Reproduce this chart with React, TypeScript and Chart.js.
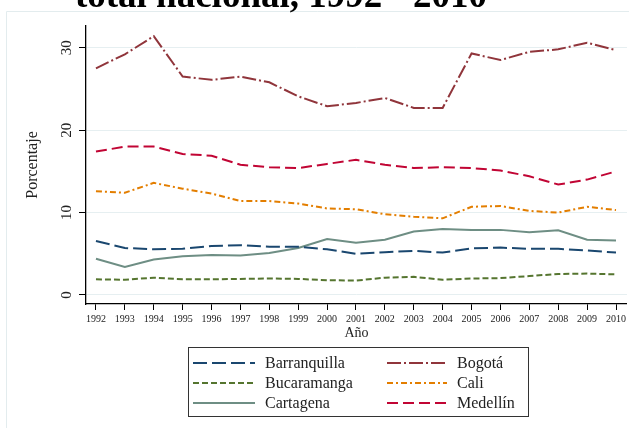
import React, { useEffect, useRef } from 'react';
import { Chart, registerables } from 'chart.js';

Chart.register(...registerables);

const years = [1992, 1993, 1994, 1995, 1996, 1997, 1998, 1999, 2000, 2001, 2002, 2003, 2004, 2005, 2006, 2007, 2008, 2009, 2010];
const barranquilla = [6.55, 5.7, 5.55, 5.6, 5.95, 6.05, 5.85, 5.85, 5.55, 5.0, 5.2, 5.35, 5.15, 5.65, 5.75, 5.6, 5.6, 5.4, 5.15];
const bogota = [27.5, 29.2, 31.4, 26.5, 26.1, 26.5, 25.8, 24.1, 22.9, 23.3, 23.9, 22.7, 22.7, 29.3, 28.5, 29.5, 29.8, 30.6, 29.7];
const bucaramanga = [1.9, 1.85, 2.1, 1.9, 1.9, 1.95, 2.0, 1.95, 1.8, 1.75, 2.1, 2.2, 1.85, 2.0, 2.05, 2.3, 2.55, 2.6, 2.5];
const cali = [12.6, 12.4, 13.6, 12.9, 12.3, 11.4, 11.4, 11.1, 10.5, 10.4, 9.8, 9.5, 9.3, 10.7, 10.8, 10.2, 10.0, 10.7, 10.3];
const cartagena = [4.4, 3.4, 4.3, 4.7, 4.85, 4.8, 5.1, 5.7, 6.8, 6.35, 6.7, 7.7, 8.0, 7.9, 7.9, 7.6, 7.85, 6.7, 6.6];
const medellin = [17.4, 18.0, 18.0, 17.1, 16.9, 15.8, 15.5, 15.4, 15.9, 16.4, 15.8, 15.4, 15.5, 15.4, 15.1, 14.4, 13.4, 14.0, 15.0];
const yTicks = [0, 10, 20, 30];
const titleText = 'total nacional, 1992 - 2010';
const yTitle = 'Porcentaje';
const xTitle = 'Año';

const seriesNames = ['Barranquilla', 'Bogotá', 'Bucaramanga', 'Cali', 'Cartagena', 'Medellín'];
const seriesValues = [barranquilla, bogota, bucaramanga, cali, cartagena, medellin];
const seriesColors = ['#1a476f', '#90353b', '#55752f', '#e37e00', '#6e8e84', '#c10534'];
const seriesDash = [[14, 5], [14, 3, 2, 3], [6, 3], [6, 3, 2, 3], [], [11, 5]];

const SERIF = '"Liberation Serif", "DejaVu Serif", serif';

const framePlugin = {
  id: 'frame',
  beforeDraw(chart: any) {
    const ctx = chart.ctx;
    ctx.save();
    ctx.fillStyle = '#ffffff';
    ctx.fillRect(0, 0, chart.width, chart.height);
    ctx.strokeStyle = '#e3ecee';
    ctx.lineWidth = 1;
    ctx.beginPath();
    ctx.moveTo(6.5, chart.height);
    ctx.lineTo(6.5, 11.5);
    ctx.lineTo(chart.width, 11.5);
    ctx.stroke();
    ctx.restore();
  },
  afterDraw(chart: any) {
    const ctx = chart.ctx;
    ctx.save();
    // title (cropped at top)
    ctx.fillStyle = '#000000';
    ctx.font = 'bold 37px ' + SERIF;
    ctx.textAlign = 'center';
    ctx.textBaseline = 'alphabetic';
    ctx.fillText(titleText, 281, 7);

    // legend
    const bx = 188.5, by = 347.5, bw = 340, bh = 69;
    ctx.strokeStyle = '#333333';
    ctx.lineWidth = 1;
    ctx.setLineDash([]);
    ctx.strokeRect(bx, by, bw, bh);
    const colSample = [[193, 255], [387, 447]];
    const colText = [265, 457];
    const rowY = [363, 383, 403];
    ctx.font = '16px ' + SERIF;
    ctx.textAlign = 'left';
    ctx.textBaseline = 'middle';
    seriesNames.forEach((name, i) => {
      const col = i % 2;
      const row = Math.floor(i / 2);
      const y = rowY[row];
      ctx.strokeStyle = seriesColors[i];
      ctx.lineWidth = 2;
      ctx.setLineDash(seriesDash[i]);
      ctx.beginPath();
      ctx.moveTo(colSample[col][0], y);
      ctx.lineTo(colSample[col][1], y);
      ctx.stroke();
      ctx.setLineDash([]);
      ctx.fillStyle = '#222222';
      ctx.fillText(name, colText[col], y + 1);
    });
    ctx.restore();
  },
};

export default function App() {
  const canvasRef = useRef<HTMLCanvasElement | null>(null);

  useEffect(() => {
    const canvas = canvasRef.current;
    if (!canvas) return;
    const datasets = seriesNames.map((name, i) => ({
      label: name,
      data: years.map((yr, j) => ({ x: yr, y: seriesValues[i][j] })),
      borderColor: seriesColors[i],
      backgroundColor: seriesColors[i],
      borderDash: seriesDash[i],
      borderWidth: 2,
      pointRadius: 0,
      tension: 0,
      fill: false,
    }));

    const chart = new Chart(canvas, {
      type: 'line',
      data: { datasets },
      options: {
        responsive: false,
        animation: false,
        layout: { padding: { top: 26, left: 0, right: 0, bottom: 84 } },
        plugins: {
          legend: { display: false },
          title: { display: false },
          tooltip: { enabled: false },
        },
        scales: {
          x: {
            type: 'linear',
            min: 1992 - 10 / 29,
            max: 2010 + 11 / 29,
            afterBuildTicks: (scale: any) => {
              scale.ticks = years.map((v) => ({ value: v }));
            },
            afterFit: (scale: any) => {
              scale.height = 40;
            },
            ticks: {
              autoSkip: false,
              maxRotation: 0,
              minRotation: 0,
              padding: 3,
              color: '#222222',
              font: { family: SERIF, size: 10 },
              callback: (v: any) => String(v),
            },
            grid: {
              drawOnChartArea: false,
              drawTicks: true,
              tickLength: 6,
              tickColor: '#000000',
              tickWidth: 1,
            },
            border: { display: true, color: '#000000', width: 1.3 },
            title: {
              display: true,
              text: xTitle,
              color: '#222222',
              font: { family: SERIF, size: 14 },
              padding: { top: 0, bottom: 2.6 },
            },
          },
          y: {
            type: 'linear',
            min: -9 / 8.243,
            max: 30 + 21.7 / 8.243,
            afterBuildTicks: (scale: any) => {
              scale.ticks = yTicks.map((v) => ({ value: v }));
            },
            afterFit: (scale: any) => {
              scale.width = 86;
            },
            ticks: {
              minRotation: 90,
              maxRotation: 90,
              crossAlign: 'center',
              padding: 4,
              color: '#222222',
              font: { family: SERIF, size: 15 },
              callback: (v: any) => String(v),
            },
            grid: {
              color: '#e6eff1',
              lineWidth: 1,
              drawTicks: true,
              tickLength: 7,
              tickColor: '#000000',
              tickWidth: 1,
            },
            border: { display: true, color: '#000000', width: 1.3 },
            title: {
              display: true,
              text: yTitle,
              color: '#222222',
              font: { family: SERIF, size: 16 },
              padding: { top: 23.4, bottom: 0 },
            },
          },
        },
      } as any,
      plugins: [framePlugin],
    });
    return () => chart.destroy();
  }, []);

  return (
    <div style={{ position: 'absolute', left: 0, top: 0, width: 629, height: 428 }}>
      <canvas ref={canvasRef} width={629} height={428} style={{ display: 'block' }} />
    </div>
  );
}
